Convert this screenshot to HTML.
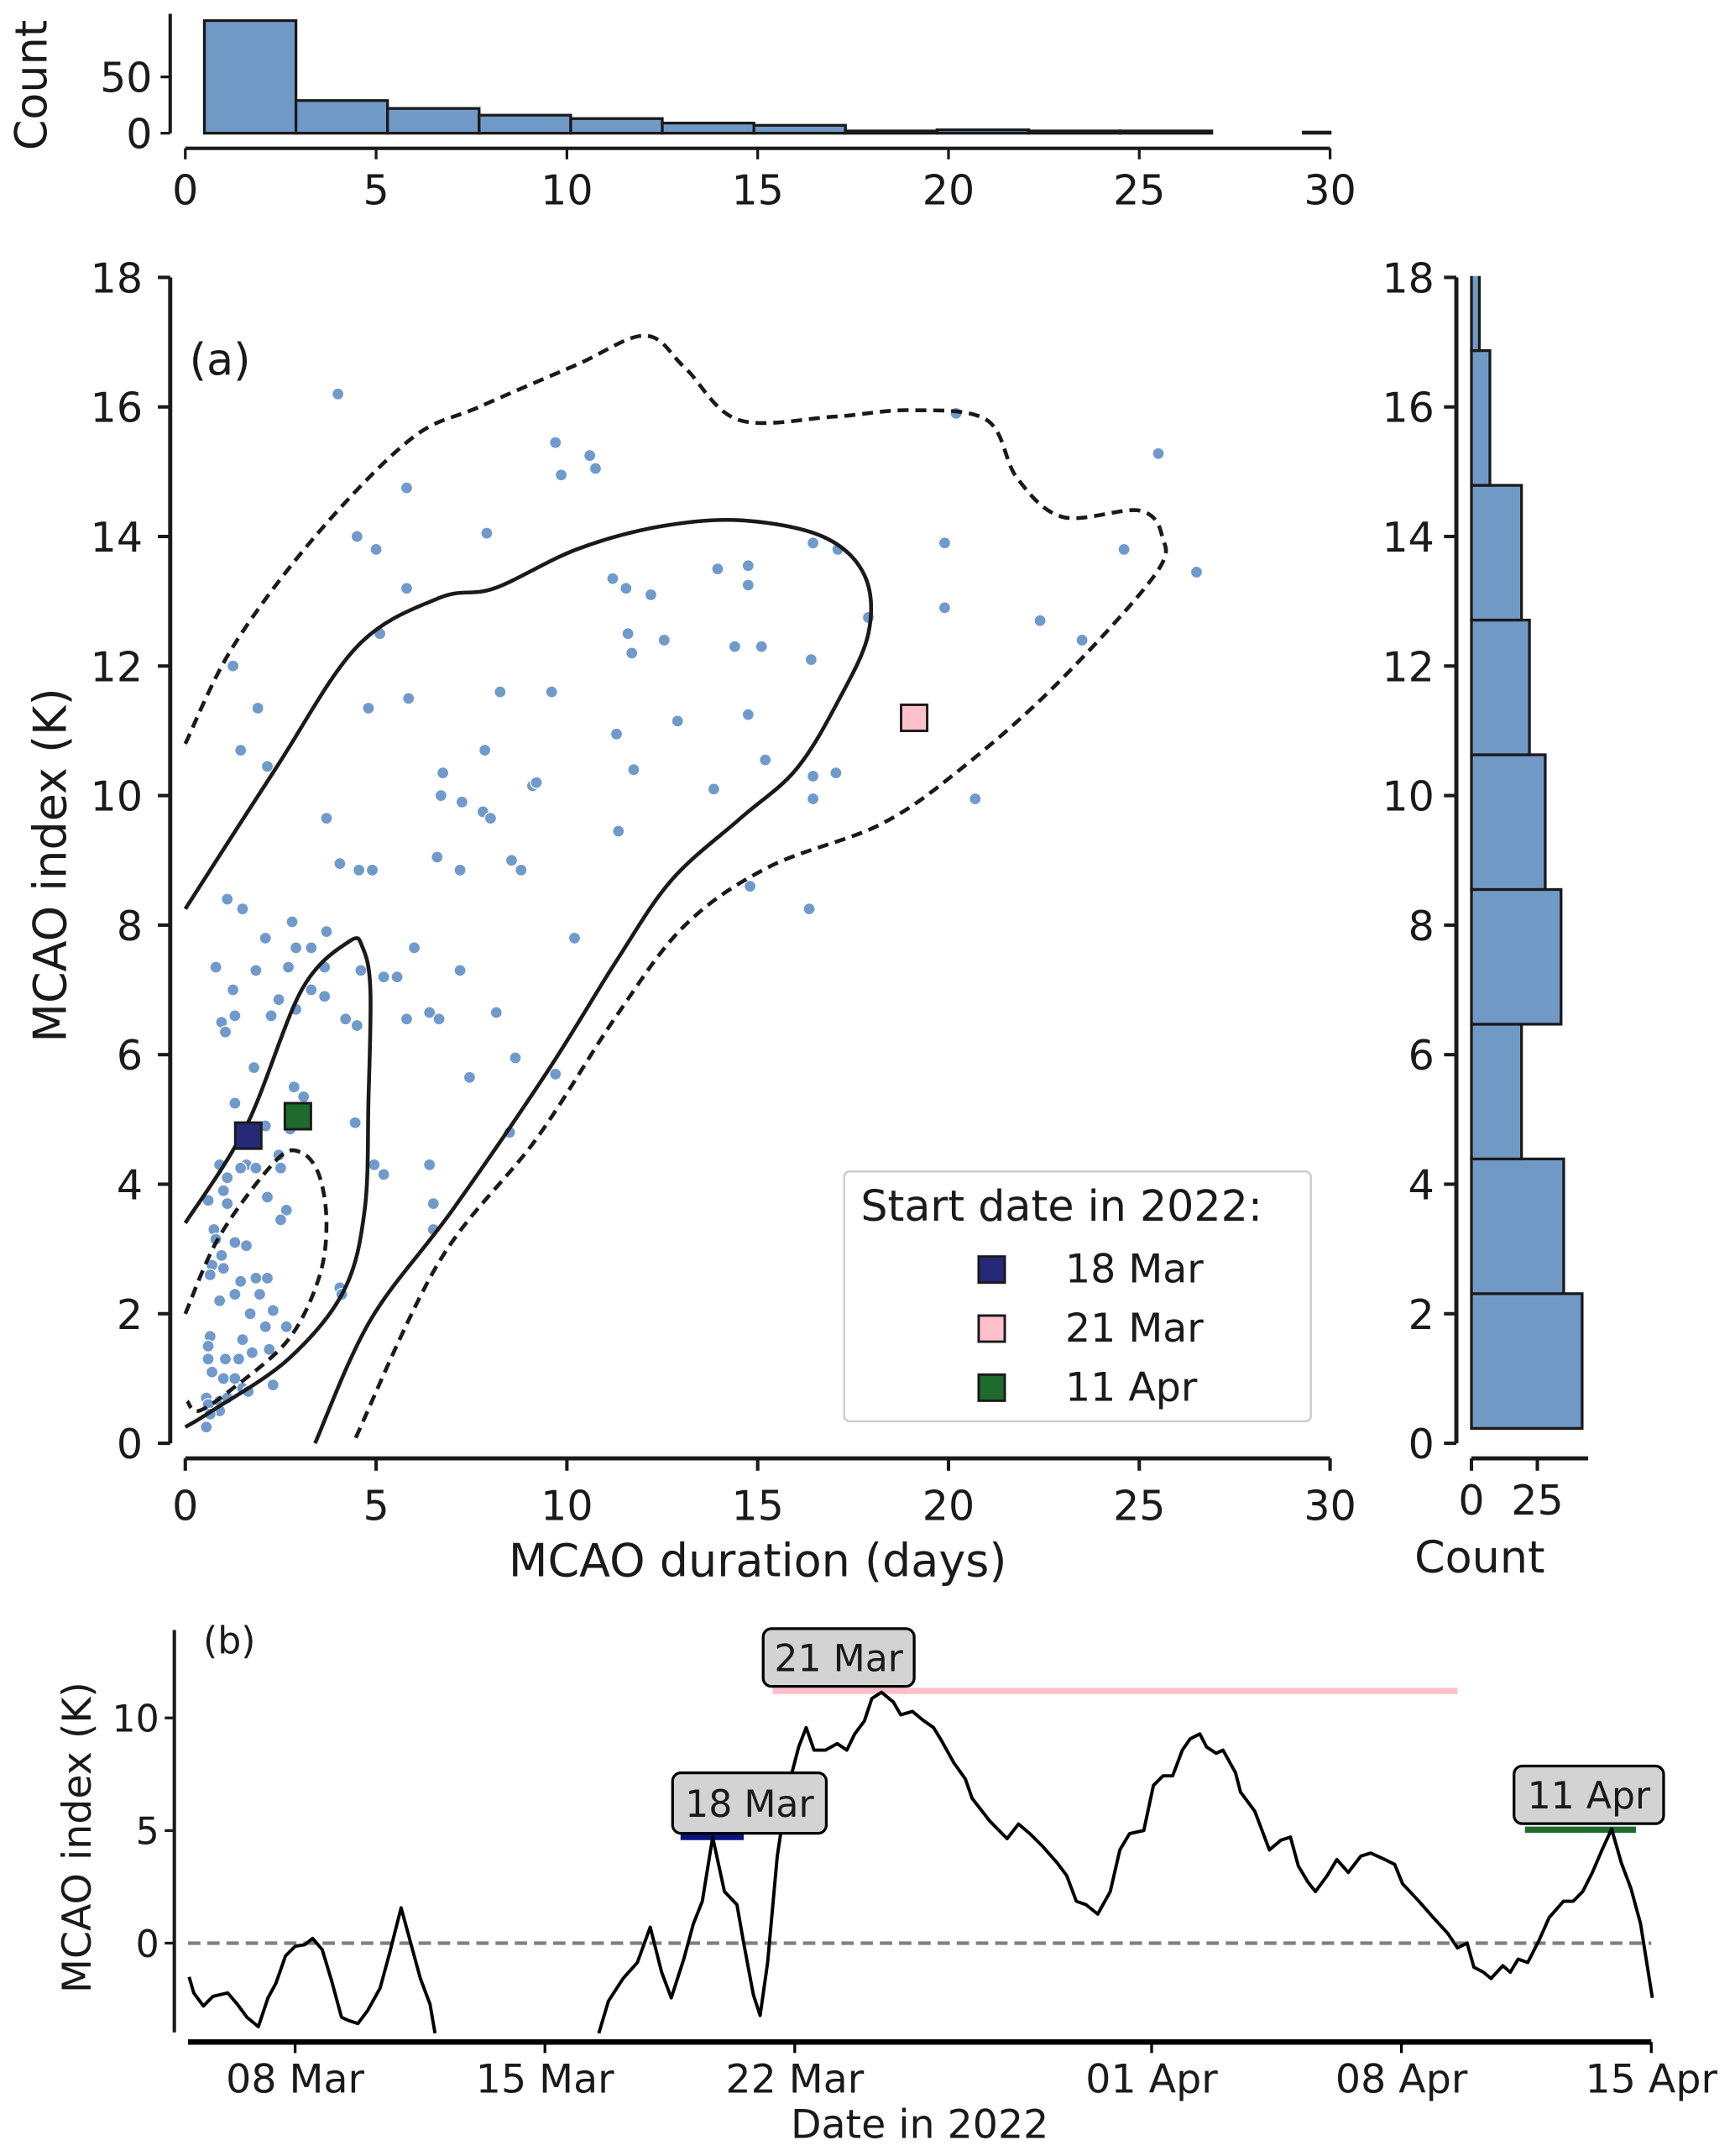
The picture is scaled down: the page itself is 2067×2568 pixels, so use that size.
<!DOCTYPE html>
<html><head><meta charset="utf-8"><style>
html,body{margin:0;padding:0;background:#fff}
svg{display:block}
text{font-family:"DejaVu Sans","Liberation Sans",sans-serif;fill:#1a1a1a}
</style></head><body>
<svg id="fig" xmlns="http://www.w3.org/2000/svg" width="2067" height="2568" viewBox="0 0 1264 1570" preserveAspectRatio="none">
<defs><clipPath id="clipTop"><rect x="120" y="0" width="850" height="110"/></clipPath><clipPath id="clipRight"><rect x="1062" y="201" width="200" height="860"/></clipPath></defs>
<g id="gtop"></g>
<g id="gmain"></g>
<g id="gright"></g>
<g id="gbot"></g>
</svg>
<script>
// ---------- DATA ----------
const topHistEdges=[0.5,2.9,5.3,7.7,10.1,12.5,14.9,17.3,19.7,22.1,24.5,26.9,29.3,31.7];
const topHistCounts=[100,29,22,16,13,9,7,2,3,2,2,0,1];
const rightHistEdges=[0.23,2.31,4.39,6.47,8.55,10.63,12.71,14.79,16.87,18.95];
const rightHistCounts=[42,35,19,34,28,22,19,7,3];
const scatterX=[4.0,9.7,10.6,9.85,10.75,5.8,7.9,4.5,5.0,20.2,25.5,26.5,24.6,5.8,11.2,11.55,12.2,13.95,14.75,14.75,11.6,11.7,12.55,14.4,15.1,16.45,17.1,19.9,19.9,17.9,22.4,23.5,16.4,5.1,1.25,1.9,1.45,2.15,4.8,5.85,8.25,9.6,11.3,12.9,14.75,15.2,7.85,6.75,7.25,6.7,7.8,8.0,9.1,9.2,11.75,13.85,11.35,16.45,17.05,16.45,20.7,3.7,6.6,7.2,8.55,8.8,4.05,4.55,4.9,14.8,16.35,10.2,1.1,1.5,2.8,3.7,2.1,2.9,3.3,0.8,1.85,2.7,3.65,4.6,5.2,5.55,6.0,7.2,1.25,3.3,2.45,2.9,3.65,2.25,1.3,0.95,1.05,4.2,4.5,5.8,6.4,6.65,8.15,1.8,8.65,7.45,9.7,2.85,3.1,1.3,4.45,8.5,2.75,2.1,4.95,5.2,6.4,6.5,6.5,4.05,4.1,1.6,1.45,1.1,1.0,0.9,0.6,1.85,2.45,2.5,2.15,2.65,2.5,1.1,0.75,0.8,1.3,1.6,0.95,0.7,0.65,1.0,1.45,1.85,2.15,1.3,1.95,0.9,1.7,2.3,2.1,2.65,1.5,0.65,0.6,0.6,0.7,1.05,1.4,1.75,2.2,1.0,1.3,1.5,1.65,0.55,0.6,0.9,1.1,0.55,0.9,2.3,0.65];
const scatterY=[16.2,15.45,15.25,14.95,15.05,14.75,14.05,14.0,13.8,15.9,15.28,13.45,13.8,13.2,13.35,13.2,13.1,13.5,13.55,13.25,12.5,12.2,12.4,12.3,12.3,13.9,13.8,13.9,12.9,12.75,12.7,12.4,12.1,12.5,12.0,11.35,10.7,10.45,11.35,11.5,11.6,11.6,10.95,11.15,11.25,10.55,10.7,10.35,9.9,10.0,9.75,9.65,10.15,10.2,10.4,10.1,9.45,10.3,10.35,9.95,9.95,9.65,9.05,8.85,9.0,8.85,8.95,8.85,8.85,8.6,8.25,7.8,8.4,8.25,8.05,7.9,7.8,7.65,7.65,7.35,7.3,7.35,7.35,7.3,7.2,7.2,7.65,7.3,7.0,7.0,6.85,6.7,6.9,6.6,6.6,6.5,6.35,6.55,6.45,6.55,6.65,6.55,6.65,5.8,5.95,5.65,5.7,5.5,5.35,5.25,4.95,4.8,4.85,4.9,4.3,4.15,4.3,3.7,3.3,2.4,2.3,4.3,4.25,4.1,3.9,4.3,3.75,4.25,4.45,4.25,3.8,3.6,3.45,3.7,3.3,3.15,3.1,3.05,2.9,2.75,2.6,2.7,2.5,2.55,2.55,2.3,2.3,2.2,2.0,2.05,1.8,1.8,1.6,1.65,1.5,1.3,1.1,1.3,1.3,1.4,1.45,1.0,1.0,0.85,0.8,0.7,0.6,0.65,0.7,0.25,0.5,0.9,0.45];
const eventNames=["18 Mar","21 Mar","11 Apr"];
const eventColors=["#252a78","#ffc0cb","#1e6b2d"];
const eventDuration=[1.65,19.1,2.95];
const eventIndex=[4.75,11.2,5.05];
const contourOuterX=[0,1.25,3.4,5.9,7.7,10.25,12.05,13.1,14.5,17,19,21,21.8,23,25,25.6,25.4,22.8,20.3,18.2,15.3,13.1,11.3,9.2,6.65,4.4];
const contourOuterY=[10.8,12.3,14.0,15.5,16.0,16.65,17.1,16.6,15.8,15.85,15.95,15.8,14.9,14.3,14.4,14.0,13.4,11.7,10.4,9.55,8.9,8.0,6.6,4.7,2.8,0];
const contourMidX=[0,2.35,4.5,6.65,8.1,10.25,12.4,14.55,16.7,17.8,17.9,17.1,16.0,14.55,12.75,11.3,9.5,7.0,4.85,3.4];
const contourMidY=[8.25,10.4,12.3,13.05,13.2,13.8,14.15,14.25,14.0,13.4,12.5,11.45,10.4,9.65,8.7,7.45,5.75,3.6,1.9,0];
const contourInnerX=[0,1.6,3.05,4.3,4.65,4.85,4.8,4.7,4.15,2.7,0.7,0];
const contourInnerY=[3.4,4.9,7.0,7.75,7.65,7.0,5.3,3.6,2.35,1.3,0.5,0.25];
const contourCoreX=[0,0.9,2.35,3.0,3.5,3.7,3.5,2.7,1.25,0.35,0.05];
const contourCoreY=[2.0,3.2,4.35,4.5,4.15,3.4,2.55,1.6,0.85,0.5,0.65];
// time series: day since 05 Mar 2022, MCAO index (null = gap)
const tsDays=[0.03,0.16,0.43,0.70,1.11,1.38,1.65,1.97,2.24,2.46,2.73,3.00,3.27,3.49,3.76,4.03,4.30,4.49,4.76,5.03,5.38,5.65,5.97,6.24,6.51,6.78,6.92,9.0,11.51,11.78,12.19,12.59,12.95,13.27,13.54,13.89,14.16,14.41,14.70,15.03,15.38,15.57,15.84,16.03,16.24,16.51,16.78,17.11,17.32,17.54,17.86,18.19,18.46,18.68,18.95,19.16,19.43,19.76,19.97,20.30,20.57,20.89,21.11,21.46,21.78,21.97,22.46,22.95,23.27,23.59,23.95,24.35,24.62,24.89,25.16,25.49,25.84,26.11,26.38,26.78,27.05,27.32,27.59,27.86,28.08,28.35,28.54,28.81,29.0,29.35,29.49,29.89,30.30,30.62,30.89,31.11,31.38,31.59,31.92,32.19,32.51,32.86,33.14,33.54,33.81,34.03,34.49,34.89,35.30,35.57,35.84,36.03,36.30,36.51,36.84,37.05,37.27,37.54,37.86,38.14,38.54,38.81,39.08,39.35,39.62,39.89,40.16,40.43,40.70,41.03];
const tsValues=[-1.5,-2.21,-2.79,-2.36,-2.21,-2.71,-3.29,-3.71,-2.43,-1.79,-0.57,-0.14,-0.07,0.21,-0.29,-1.71,-3.29,-3.43,-3.57,-3.0,-2.0,-0.43,1.57,0,-1.57,-2.71,-4.0,null,-4.0,-2.57,-1.57,-0.86,0.71,-1.29,-2.43,-0.71,0.86,1.86,4.71,2.29,1.71,0,-2.29,-3.21,-0.86,3.86,6.71,8.71,9.57,8.57,8.57,8.86,8.57,9.29,9.86,10.86,11.14,10.71,10.14,10.29,9.93,9.57,9.0,8.0,7.29,6.43,5.43,4.64,5.29,4.86,4.29,3.57,3.0,1.86,1.71,1.29,2.29,4.14,4.86,5.0,7.0,7.43,7.43,8.57,9.07,9.29,8.71,8.43,8.57,7.57,6.71,5.86,4.14,4.57,4.71,3.43,2.71,2.29,3.0,3.71,3.14,3.86,4.0,3.71,3.5,2.64,1.86,1.14,0.43,-0.21,0,-1.07,-1.29,-1.57,-1.0,-1.29,-0.71,-0.86,0.14,1.14,1.86,1.86,2.29,3.14,4.14,5.07,3.57,2.43,0.86,-2.43];
const eventStartDay=[13.8,16.38,37.46];
const eventEndDay=[15.57,35.57,40.57];
const eventLevel=[4.71,11.2,5.04];
const dateTicksDay=[3,10,17,27,34,41];
const dateTickLabels=["08 Mar","15 Mar","22 Mar","01 Apr","08 Apr","15 Apr"];
const mainXTicks=[0,5,10,15,20,25,30];
const mainYTicks=[0,2,4,6,8,10,12,14,16,18];

// ---------- HELPERS ----------
const NS="http://www.w3.org/2000/svg";
function mk(parent,tag,attrs,txt){const e=document.createElementNS(NS,tag);for(const k in attrs)e.setAttribute(k,attrs[k]);if(txt!==undefined)e.textContent=txt;parent.appendChild(e);return e;}
const sx=d=>135+d*(834/30);
const sy=v=>1051-v*(849/18);
const topY=c=>97-c*0.82;
const rightX=c=>1072+c*1.92;
const bx=d=>137+d*26.0;
const by=v=>1415-v*16.4;
function smoothPath(xs,ys){
  const p=xs.map((x,i)=>[sx(x),sy(ys[i])]);
  let d=`M${p[0][0]},${p[0][1]}`;
  for(let i=0;i<p.length-1;i++){
    const p0=p[Math.max(0,i-1)],p1=p[i],p2=p[i+1],p3=p[Math.min(p.length-1,i+2)];
    const c1=[p1[0]+(p2[0]-p0[0])/6,p1[1]+(p2[1]-p0[1])/6];
    const c2=[p2[0]-(p3[0]-p1[0])/6,p2[1]-(p3[1]-p1[1])/6];
    d+=` C${c1[0]},${c1[1]} ${c2[0]},${c2[1]} ${p2[0]},${p2[1]}`;
  }
  return d;
}
const gTop=document.getElementById('gtop'),gMain=document.getElementById('gmain'),gRight=document.getElementById('gright'),gBot=document.getElementById('gbot');

// ---------- TOP HISTOGRAM ----------
const topBars=mk(gTop,'g',{'clip-path':'url(#clipTop)'});
topHistCounts.forEach((c,i)=>{
  const r=mk(topBars,'rect',{x:sx(topHistEdges[i]),y:topY(c),width:sx(topHistEdges[i+1])-sx(topHistEdges[i]),height:97-topY(c),fill:'#7199c6',stroke:'#1a1a1a','stroke-width':2});
  
  
});
{
 let s=mk(gTop,'line',{x1:124,y1:10,x2:124,y2:97,stroke:'#1a1a1a','stroke-width':2.5});
 
 
 [[0,'0'],[50,'50']].forEach(([c,l])=>{mk(gTop,'line',{x1:117,y1:topY(c),x2:124,y2:topY(c),stroke:'#1a1a1a','stroke-width':2});const t=mk(gTop,'text',{x:111,y:topY(c)+11,'font-size':30,'text-anchor':'end'},l);
 
 });
 const yl=mk(gTop,'text',{x:0,y:0,'font-size':32,'text-anchor':'middle',transform:'translate(34,62) rotate(-90)'},'Count');
 
 
 s=mk(gTop,'line',{x1:135,y1:108,x2:969,y2:108,stroke:'#1a1a1a','stroke-width':2.5});
 
 
 mainXTicks.forEach(v=>{mk(gTop,'line',{x1:sx(v),y1:108,x2:sx(v),y2:116,stroke:'#1a1a1a','stroke-width':2});const t=mk(gTop,'text',{x:sx(v),y:149,'font-size':30,'text-anchor':'middle'},String(v));
 
 });
}

// ---------- MAIN SCATTER ----------
scatterX.forEach((x,i)=>{const c=mk(gMain,'circle',{cx:sx(x),cy:sy(scatterY[i]),r:4.3,fill:'#6f9acb',stroke:'#fff','stroke-width':0.8});
 
 });
[[contourOuterX,contourOuterY,true,'contour-outer'],[contourMidX,contourMidY,false,'contour-middle'],[contourInnerX,contourInnerY,false,'contour-inner'],[contourCoreX,contourCoreY,true,'contour-core']].forEach(([xs,ys,dash,name])=>{
 const p=mk(gMain,'path',{d:smoothPath(xs,ys),fill:'none',stroke:'#1a1a1a','stroke-width':2.8,'stroke-dasharray':dash?'8,5':'none'});
 
 
});
eventDuration.forEach((d,i)=>{const r=mk(gMain,'rect',{x:sx(d)-9.5,y:sy(eventIndex[i])-9.5,width:19,height:19,fill:eventColors[i],stroke:'#1a1a1a','stroke-width':1.8});
 
 });
{
 let t=mk(gMain,'text',{x:138,y:273,'font-size':32},'(a)');
 
 
 let s=mk(gMain,'line',{x1:124,y1:202,x2:124,y2:1051,stroke:'#1a1a1a','stroke-width':3});
 
 
 mainYTicks.forEach(v=>{mk(gMain,'line',{x1:115,y1:sy(v),x2:124,y2:sy(v),stroke:'#1a1a1a','stroke-width':2.5});const tt=mk(gMain,'text',{x:104,y:sy(v)+11,'font-size':30,'text-anchor':'end'},String(v));
 
 });
 s=mk(gMain,'line',{x1:135,y1:1062,x2:969,y2:1062,stroke:'#1a1a1a','stroke-width':3});
 
 
 mainXTicks.forEach(v=>{mk(gMain,'line',{x1:sx(v),y1:1062,x2:sx(v),y2:1071,stroke:'#1a1a1a','stroke-width':2.5});const tt=mk(gMain,'text',{x:sx(v),y:1107,'font-size':30,'text-anchor':'middle'},String(v));
 
 });
 t=mk(gMain,'text',{x:552,y:1148,'font-size':33,'text-anchor':'middle'},'MCAO duration (days)');
 
 
 t=mk(gMain,'text',{x:0,y:0,'font-size':33,'text-anchor':'middle',transform:'translate(48,630) rotate(-90)'},'MCAO index (K)');
 
 
 const lg=mk(gMain,'g',{});
 
 
 mk(lg,'rect',{x:615,y:853,width:340,height:182,rx:4,fill:'#fff',stroke:'#cccccc','stroke-width':1.5});
 t=mk(lg,'text',{x:627,y:889,'font-size':31},'Start date in 2022:');
 
 
 eventNames.forEach((n,i)=>{const y=924+i*43;mk(lg,'rect',{x:713,y:y-9,width:19,height:19,fill:eventColors[i],stroke:'#1a1a1a','stroke-width':1.8});const e=mk(lg,'text',{x:776,y:y+10,'font-size':29},n);
 
 });
}

// ---------- RIGHT HISTOGRAM ----------
const rightBars=mk(gRight,'g',{'clip-path':'url(#clipRight)'});
rightHistCounts.forEach((c,i)=>{
 const y0=sy(rightHistEdges[i]),y1=sy(rightHistEdges[i+1]);
 const r=mk(rightBars,'rect',{x:1072,y:y1,width:rightX(c)-1072,height:y0-y1,fill:'#7199c6',stroke:'#1a1a1a','stroke-width':2});
 
 
});
{
 let s=mk(gRight,'line',{x1:1061,y1:202,x2:1061,y2:1051,stroke:'#1a1a1a','stroke-width':3});
 
 
 mainYTicks.forEach(v=>{mk(gRight,'line',{x1:1052,y1:sy(v),x2:1061,y2:sy(v),stroke:'#1a1a1a','stroke-width':2.5});const tt=mk(gRight,'text',{x:1045,y:sy(v)+11,'font-size':30,'text-anchor':'end'},String(v));
 
 });
 s=mk(gRight,'line',{x1:1072,y1:1062,x2:1157,y2:1062,stroke:'#1a1a1a','stroke-width':3});
 
 
 [[0,'0'],[25,'25']].forEach(([c,l])=>{mk(gRight,'line',{x1:rightX(c),y1:1062,x2:rightX(c),y2:1071,stroke:'#1a1a1a','stroke-width':2.5});const tt=mk(gRight,'text',{x:rightX(c),y:1103,'font-size':30,'text-anchor':'middle'},l);
 
 });
 const t=mk(gRight,'text',{x:1078,y:1145,'font-size':32,'text-anchor':'middle'},'Count');
 
 
}

// ---------- PANEL B ----------
{
 let z=mk(gBot,'line',{x1:137,y1:by(0),x2:1203,y2:by(0),stroke:'#808080','stroke-width':2.6,'stroke-dasharray':'9,5'});
 
 
 eventStartDay.forEach((s,i)=>{const l=mk(gBot,'line',{x1:bx(s),y1:by(eventLevel[i]),x2:bx(eventEndDay[i]),y2:by(eventLevel[i]),stroke:i===0?'#0b1280':eventColors[i],'stroke-width':4.5});
 
 });
 let d='',pen=false;
 tsDays.forEach((t,i)=>{const v=tsValues[i];if(v===null){pen=false;return;}d+=(pen?' L':' M')+bx(t)+','+by(v);pen=true;});
 const p=mk(gBot,'path',{d:d,fill:'none',stroke:'#000','stroke-width':2.4,'stroke-linejoin':'round'});
 
 
 const boxes=[[490,1291,112,44],[556,1186,110,42],[1103,1286,109,42]];
 eventNames.forEach((n,i)=>{const [x,y,w,h]=boxes[i];mk(gBot,'rect',{x:x,y:y,width:w,height:h,rx:6,fill:'#d3d3d3',stroke:'#000','stroke-width':2});const t=mk(gBot,'text',{x:x+w/2,y:y+h/2+10,'font-size':27,'text-anchor':'middle'},n);
 
 });
 let t=mk(gBot,'text',{x:148,y:1204,'font-size':27},'(b)');
 
 
 let s=mk(gBot,'line',{x1:127,y1:1187,x2:127,y2:1480,stroke:'#1a1a1a','stroke-width':2.5});
 
 
 [0,5,10].forEach(v=>{mk(gBot,'line',{x1:120,y1:by(v),x2:127,y2:by(v),stroke:'#1a1a1a','stroke-width':2});const tt=mk(gBot,'text',{x:116,y:by(v)+10,'font-size':27,'text-anchor':'end'},String(v));
 
 });
 t=mk(gBot,'text',{x:0,y:0,'font-size':29,'text-anchor':'middle',transform:'translate(66,1338) rotate(-90)'},'MCAO index (K)');
 
 
 s=mk(gBot,'line',{x1:137,y1:1487,x2:1203,y2:1487,stroke:'#000','stroke-width':4});
 
 
 dateTicksDay.forEach((dd,i)=>{mk(gBot,'line',{x1:bx(dd),y1:1487,x2:bx(dd),y2:1495,stroke:'#000','stroke-width':2});const tt=mk(gBot,'text',{x:bx(dd),y:1524,'font-size':29,'text-anchor':'middle'},dateTickLabels[i]);
 
 });
 t=mk(gBot,'text',{x:670,y:1557,'font-size':29,'text-anchor':'middle'},'Date in 2022');
 
 
}
</script>
</body></html>
